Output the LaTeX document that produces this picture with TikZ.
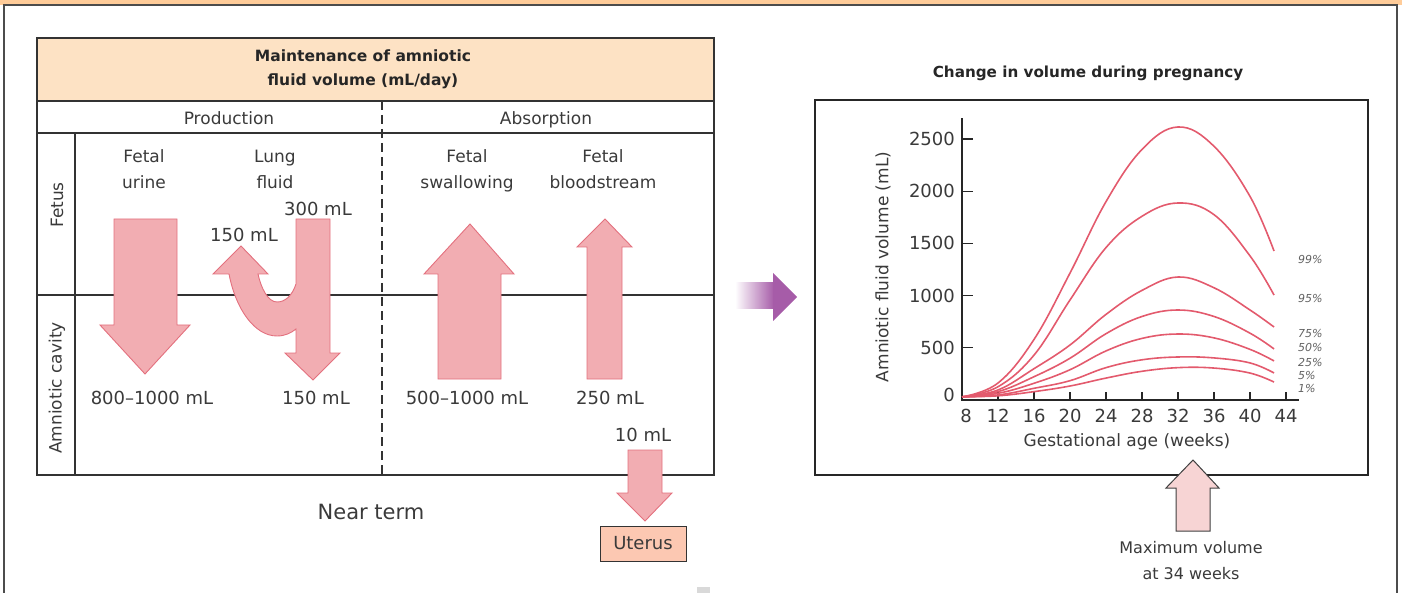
\documentclass[tikz,border=0pt]{standalone}
\usepackage{fontspec}
\setmainfont{DejaVu Sans}
\definecolor{barorange}{HTML}{FFCC99}
\definecolor{headpeach}{HTML}{FDE2C4}
\definecolor{arrfill}{HTML}{F2ADB2}
\definecolor{arrline}{HTML}{E3707E}
\definecolor{uterusfill}{HTML}{FCC8B2}
\definecolor{curvecol}{HTML}{E35A6D}
\definecolor{txt}{HTML}{3A3A3A}
\definecolor{purp}{HTML}{A65CA8}
\definecolor{maxfill}{HTML}{F7D4D4}
\begin{document}
\begin{tikzpicture}[x=1pt,y=-1pt,
  lbl/.style={text=txt, inner sep=0pt, align=center, font=\fontsize{17}{26}\selectfont},
  ml/.style={lbl, font=\fontsize{18}{22}\selectfont},
  tbl/.style={draw=black!80, line width=1.1pt},
  blockarrow/.style={fill=arrfill, draw=arrline, line width=0.9pt, line join=miter},
  curve/.style={draw=curvecol, line width=1.6pt},
  pct/.style={text=txt!80, inner sep=0pt, anchor=west, font=\fontsize{11}{12}\selectfont\itshape},
  ticklbl/.style={lbl, font=\fontsize{18}{20}\selectfont},
  axis/.style={draw=black!85, line width=1.2pt}]
\useasboundingbox (0,0) rectangle (1402,593);
% outer frame
\fill[barorange] (0,0) rectangle (1402,5);
\draw[draw=black!70, line width=1.2pt] (4,593) -- (4,5) -- (1397,5) -- (1397,593);
% ---------- left table ----------
\fill[headpeach] (37,38) rectangle (714,101);
\draw[tbl] (37,38) rectangle (714,475);
\draw[tbl] (37,101) -- (714,101);
\draw[tbl] (37,133) -- (714,133);
\draw[tbl] (37,295) -- (714,295);
\draw[tbl] (75,133) -- (75,475);
\draw[draw=black!80, line width=1.1pt, dash pattern=on 9pt off 5pt] (382,101) -- (382,475);
\node[lbl, font=\fontsize{15.5}{24}\selectfont\bfseries, text=black!85] (title) at (363,69) {Maintenance of amniotic\\fluid volume (mL/day)};
\node[lbl, anchor=base] (prod) at (229,125) {Production};
\node[lbl, anchor=base] (abs) at (546,125) {Absorption};
\node[lbl, rotate=90] (fetus) at (57,205) {Fetus};
\node[lbl, rotate=90] (cavity) at (57,388) {Amniotic cavity};
\node[lbl, anchor=base] (urine) at (144,189) {Fetal\\urine};
\node[lbl, anchor=base] (lung) at (275,189) {Lung\\fluid};
\node[lbl, anchor=base] (swallow) at (467,189) {Fetal\\swallowing};
\node[lbl, anchor=base] (blood) at (603,189) {Fetal\\bloodstream};
\node[ml] (mlthree) at (318,209) {300 mL};
\node[ml] (mlonea) at (244,235) {150 mL};
\node[ml] (mleight) at (152,398) {800--1000 mL};
\node[ml] (mloneb) at (316,398) {150 mL};
\node[ml] (mlfive) at (467,398) {500--1000 mL};
\node[ml] (mltwo) at (610,398) {250 mL};
\node[ml] (mlten) at (643,435) {10 mL};
\node[lbl, font=\fontsize{21}{24}\selectfont] (near) at (371,512) {Near term};
% block arrows
\draw[blockarrow] (114,219) -- (177,219) -- (177,325) -- (190,325) -- (145,374) -- (100,325) -- (114,325) -- cycle;
\draw[blockarrow] (296,219) -- (330,219) -- (330,353) -- (340,353) -- (313,380) -- (285,353) -- (296,353) -- (296,329)
  .. controls (291,333) and (285,336) .. (277,336)
  .. controls (255,336) and (236,310) .. (229,274)
  -- (213,274) -- (241,246) -- (268,274) -- (258,274)
  .. controls (261,288) and (268,302) .. (277,302)
  .. controls (285,302) and (292,296) .. (296,284) -- cycle;
\draw[blockarrow] (438,379) -- (501,379) -- (501,274) -- (514,274) -- (470,224) -- (424,274) -- (438,274) -- cycle;
\draw[blockarrow] (587,379) -- (622,379) -- (622,247) -- (632,247) -- (605,219) -- (577,247) -- (587,247) -- cycle;
\draw[blockarrow] (628,450) -- (662,450) -- (662,493) -- (672,493) -- (645,521) -- (617,493) -- (628,493) -- cycle;
\node[draw=black!80, line width=1pt, fill=uterusfill, minimum width=86pt, minimum height=35pt, inner sep=0pt, text=txt, font=\fontsize{18}{20}\selectfont] (uterus) at (643,543.5) {Uterus};
\fill[gray!30] (697,587) rectangle (710,593);
% purple arrow
\shade[left color=white, right color=purp] (735,283) rectangle (774,309);
\fill[purp] (773,273) -- (797,297) -- (773,321) -- cycle;
% ---------- chart ----------
\node[lbl, font=\fontsize{15.2}{18}\selectfont\bfseries, text=black!85] (ctitle) at (1088,73) {Change in volume during pregnancy};
\draw[draw=black!85, line width=1.3pt] (815,100) rectangle (1368,475);
\begin{scope}[shift={(890,400)}, x=9pt, y=0.1044pt]
  \draw[axis] (8,2700) -- (8,0) -- (45.4,0);
  \foreach \v in {500,1000,1500,2000,2500} {
    \draw[axis] (8,\v) -- ++(11pt,0pt);
    \node[ticklbl, anchor=east] (yl\v) at ([xshift=-7pt]8,\v) {\v};
  }
  \node[ticklbl, anchor=east] (yl0) at ([xshift=-7pt]8,45) {0};
  \foreach \w in {12,16,...,44} {
    \draw[axis] (\w,0) -- ++(0pt,8pt);
  }
  \foreach \w in {12,16,...,44} {
    \node[ticklbl] (xl\w) at ([yshift=-16pt]\w,0) {\w};
  }
  \node[ticklbl] (xl8) at ([yshift=-16pt, xshift=4pt]8,0) {8};
  \draw[curve] plot[smooth, tension=0.65] coordinates {(8,30) (12,163) (16,580) (20,1216) (24,1900) (28,2400) (32,2615) (36,2430) (40,1950) (42.67,1427)};
  \draw[curve] plot[smooth, tension=0.65] coordinates {(8,30) (12,127) (16,430) (20,958) (24,1460) (28,1760) (32,1887) (36,1775) (40,1380) (42.67,1005)};
  \draw[curve] plot[smooth, tension=0.65] coordinates {(8,30) (12,96) (16,300) (20,527) (24,820) (28,1050) (32,1178) (36,1075) (40,862) (42.67,699)};
  \draw[curve] plot[smooth, tension=0.65] coordinates {(8,30) (12,80) (16,223) (20,400) (24,635) (28,800) (32,862) (36,800) (40,640) (42.67,489)};
  \draw[curve] plot[smooth, tension=0.65] coordinates {(8,30) (12,64) (16,160) (20,290) (24,470) (28,590) (32,632) (36,595) (40,485) (42.67,374)};
  \draw[curve] plot[smooth, tension=0.65] coordinates {(8,30) (12,48) (16,112) (20,185) (24,310) (28,385) (32,412) (36,403) (40,355) (42.67,259)};
  \draw[curve] plot[smooth, tension=0.65] coordinates {(8,30) (12,40) (16,80) (20,134) (24,210) (28,275) (32,310) (36,306) (40,258) (42.67,172)};
\end{scope}
\node[lbl, rotate=90] (ylab) at (883,267) {Amniotic fluid volume (mL)};
\node[lbl] (xlab) at (1127,442) {Gestational age (weeks)};
\node[pct] (p99) at (1298,259) {99\%};
\node[pct] (p95) at (1298,298) {95\%};
\node[pct] (p75) at (1298,333) {75\%};
\node[pct] (p50) at (1298,347) {50\%};
\node[pct] (p25) at (1298,362) {25\%};
\node[pct] (p5) at (1298,375) {5\%};
\node[pct] (p1) at (1298,388) {1\%};
% max arrow
\draw[fill=maxfill, draw=black!75, line width=1pt, line join=miter] (1176,531) -- (1210,531) -- (1210,488) -- (1219,488) -- (1193,460) -- (1166,488) -- (1176,488) -- cycle;
\node[lbl, font=\fontsize{16}{26}\selectfont] (maxvol) at (1191,561) {Maximum volume\\at 34 weeks};
\end{tikzpicture}
\end{document}
